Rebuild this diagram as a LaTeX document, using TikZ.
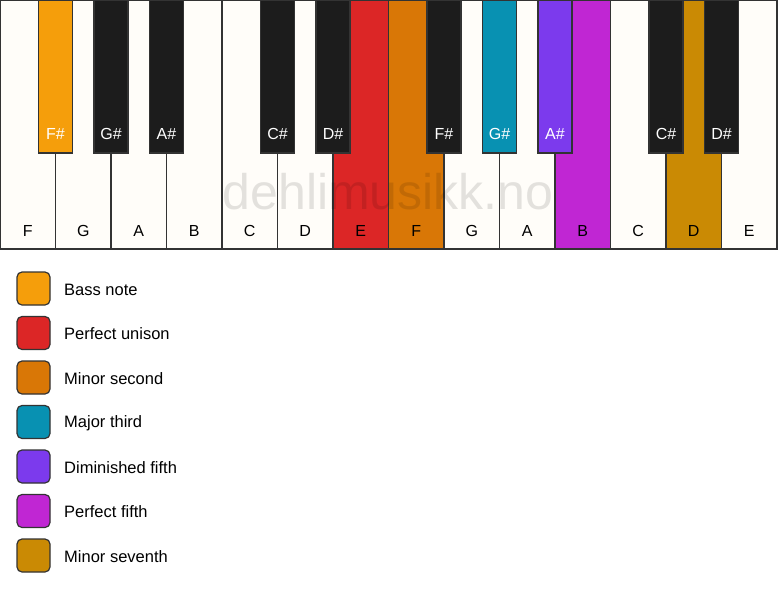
\documentclass[tikz,border=0pt]{standalone}
\usepackage{fontspec}
\setmainfont{Liberation Sans}
\definecolor{keywhite}{HTML}{FFFDF9}
\definecolor{keyblack}{HTML}{1C1C1C}
\definecolor{keyline}{HTML}{333333}
\definecolor{cbass}{HTML}{F59E0B}
\definecolor{cunison}{HTML}{DC2626}
\definecolor{cminsec}{HTML}{D97706}
\definecolor{cmajthird}{HTML}{0891B2}
\definecolor{cdimfifth}{HTML}{7C3AED}
\definecolor{cperffifth}{HTML}{C026D3}
\definecolor{cminsev}{HTML}{CA8A04}
\begin{document}
\begin{tikzpicture}[x=1pt,y=-1pt,
  whitekey/.style={draw=keyline, line width=1.2pt, rectangle, anchor=north west, minimum width=55.5pt, minimum height=249pt, inner sep=0pt, outer sep=0pt},
  blackkey/.style={draw=keyline, line width=1.2pt, rectangle, anchor=north, minimum width=34pt, minimum height=153pt, inner sep=0pt, outer sep=0pt},
  wlabel/.style={font=\fontsize{16}{18}\selectfont, text=black, inner sep=0pt},
  blabel/.style={font=\fontsize{16}{18}\selectfont, text=white, inner sep=0pt},
  legbox/.style={draw=keyline, line width=1.2pt, rounded corners=5pt, minimum width=33pt, minimum height=33pt, inner sep=0pt},
  legtext/.style={font=\fontsize{16.5}{19}\selectfont, anchor=west, inner sep=0pt}]
\useasboundingbox[fill=white] (0,0) rectangle (778,594);
% white keys
\foreach \i/\n/\c in {0/F/keywhite,1/G/keywhite,2/A/keywhite,3/B/keywhite,4/C/keywhite,5/D/keywhite,6/E/cunison,7/F/cminsec,8/G/keywhite,9/A/keywhite,10/B/cperffifth,11/C/keywhite,12/D/cminsev,13/E/keywhite}{
  \node[whitekey, fill=\c] (w\i) at ({55.5*\i},0) {};
  \node[wlabel] (wl\i) at ({55.5*\i+27.75},231) {\n};
}
% black keys
\foreach \i/\n/\c in {1/F\#/cbass,2/G\#/keyblack,3/A\#/keyblack,5/C\#/keyblack,6/D\#/keyblack,8/F\#/keyblack,9/G\#/cmajthird,10/A\#/cdimfifth,12/C\#/keyblack,13/D\#/keyblack}{
  \node[blackkey, fill=\c] (b\i) at ({55.5*\i},0) {};
  \node[blabel] (bl\i) at ({55.5*\i},133.5) {\n};
}
% watermark
\node[font=\fontsize{50}{56}\selectfont, text=black, opacity=0.11, inner sep=0pt] (wm) at (388,192) {dehlimusikk.no};
% legend
\foreach \k/\c/\t in {0/cbass/Bass note,1/cunison/Perfect unison,2/cminsec/Minor second,3/cmajthird/Major third,4/cdimfifth/Diminished fifth,5/cperffifth/Perfect fifth,6/cminsev/Minor seventh}{
  \node[legbox, fill=\c] (lb\k) at (33.5,{288.5+44.5*\k}) {};
  \node[legtext] (lt\k) at (64,{289.5+44.5*\k}) {\t};
}
\end{tikzpicture}
\end{document}
